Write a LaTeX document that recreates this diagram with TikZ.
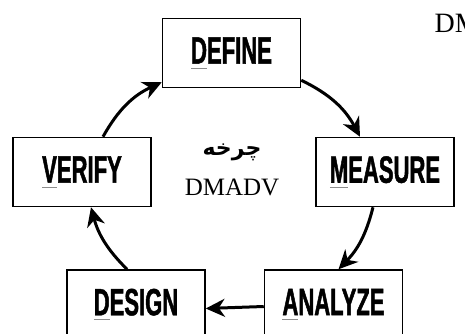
\documentclass[tikz,border=0pt]{standalone}
\usepackage{fontspec}
\setmainfont{Liberation Serif}
\newfontfamily\boxfont[FakeStretch=0.58, FakeBold=1.2]{Liberation Sans}
\newfontfamily\arabicfont[Script=Arabic]{DejaVu Sans}
\TeXXeTstate=1
\usetikzlibrary{arrows.meta}
\newcommand{\keyletter}[1]{\setbox0\hbox{#1}\rlap{\color{black!45}\rule[-5pt]{\wd0}{0.9pt}}\box0}

\begin{document}
\begin{tikzpicture}[x=1pt, y=-1pt,
  box/.style={draw, line width=1.5pt, minimum width=138pt, minimum height=69pt,
    inner sep=0pt, font=\boxfont\bfseries\fontsize{38}{38}\selectfont},
  flow/.style={line width=3pt, -{Stealth[length=19pt, width=18pt, inset=6pt]}},
  lab/.style={font=\fontsize{25}{25}\selectfont}]
\useasboundingbox (0,0) rectangle (465,334);
\node[box] (define) at (231.5,53) {\keyletter{D}EFINE};
\node[box] (measure) at (385,172) {\keyletter{M}EASURE};
\node[box] (analyze) at (333.5,304.5) {\keyletter{A}NALYZE};
\node[box] (design) at (136,304.5) {\keyletter{D}ESIGN};
\node[box] (verify) at (82,172) {\keyletter{V}ERIFY};
\node (cycle) at (232,152) {\arabicfont\bfseries\fontsize{22}{22}\selectfont\beginR چرخه\endR};
\node[lab] (dmadv) at (232,187) {DMADV};
\node[lab, anchor=base west, font=\fontsize{28}{28}\selectfont] (cut) at (431,33) {DM};
\draw[flow] ([yshift=8pt]define.south east) to[bend left=18] ([xshift=-25pt]measure.north);
\draw[flow] ([xshift=-12pt]measure.south) to[bend left=15] ([xshift=5pt]analyze.north);
\draw[flow] ([yshift=-2pt]analyze.west) -- ([yshift=-4pt]design.east);
\draw[flow] ([xshift=-9pt]design.north) to[bend left=15] ([xshift=9pt]verify.south);
\draw[flow] ([xshift=21pt]verify.north) to[bend left=18] ([yshift=6pt]define.south west);
\end{tikzpicture}
\end{document}
